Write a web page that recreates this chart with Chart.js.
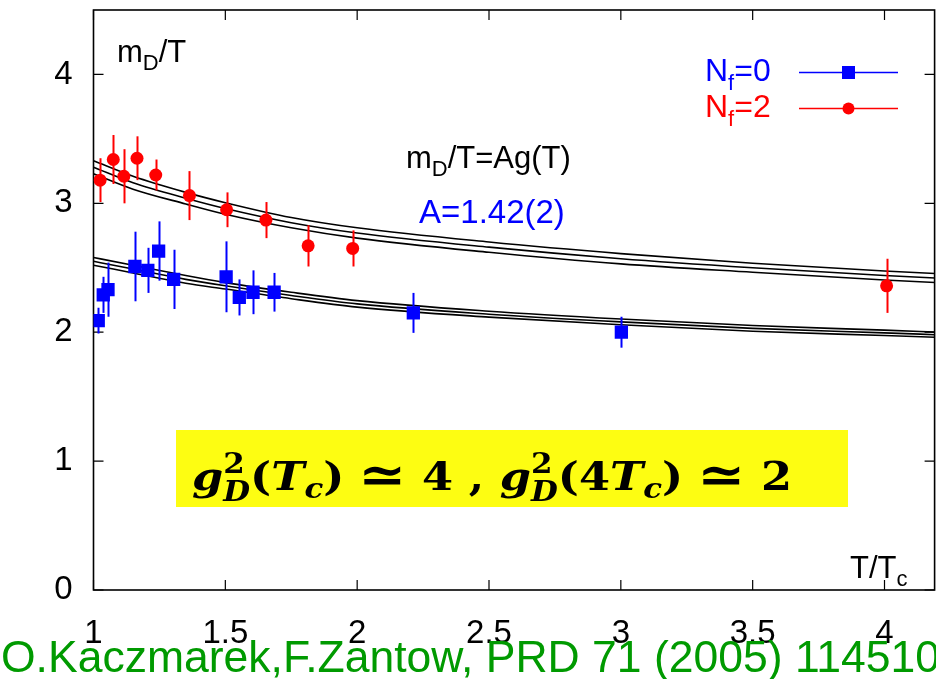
<!DOCTYPE html>
<html>
<head>
<meta charset="utf-8">
<script src="https://cdn.jsdelivr.net/npm/chart.js@4.4.0/dist/chart.umd.min.js"></script>
<style>
    html, body { margin: 0; padding: 0; background: #fff; overflow: hidden; }
    #wrap { width: 936px; height: 679px; overflow: hidden; }
</style>
</head>
<body>
<div id="wrap"><canvas id="screeningChart" width="944" height="679"></canvas></div>
<script>
// quenched (Nf=0) data: T/Tc, m_D/T, error
var nf0T   = [1.018, 1.037, 1.055, 1.157, 1.206, 1.247, 1.304, 1.503, 1.553, 1.605, 1.685, 2.213, 3.002];
var nf0M   = [2.09, 2.29, 2.33, 2.51, 2.48, 2.63, 2.41, 2.43, 2.27, 2.31, 2.31, 2.15, 2.00];
var nf0Err = [0.10, 0.14, 0.21, 0.27, 0.175, 0.23, 0.23, 0.275, 0.14, 0.17, 0.15, 0.155, 0.12];

// 2-flavour (Nf=2) data
var nf2T   = [1.025, 1.075, 1.115, 1.165, 1.236, 1.364, 1.505, 1.654, 1.814, 1.983, 4.008];
var nf2M   = [3.18, 3.34, 3.21, 3.35, 3.22, 3.06, 2.95, 2.87, 2.67, 2.65, 2.36];
var nf2Err = [0.17, 0.19, 0.21, 0.17, 0.12, 0.19, 0.135, 0.14, 0.16, 0.14, 0.21];

// fit bands m_D/T = A g(T): centre line and the two error lines
var fitT    = [1.0, 1.15, 1.35, 1.5, 1.75, 2.0, 2.5, 3.0, 3.5, 4.0, 4.2];
var fit2Mid = [3.28, 3.16, 3.04, 2.96, 2.85, 2.77, 2.66, 2.57, 2.50, 2.44, 2.42];
var fit2Hi  = [3.33, 3.21, 3.085, 3.005, 2.89, 2.81, 2.70, 2.61, 2.535, 2.475, 2.455];
var fit2Lo  = [3.23, 3.11, 2.995, 2.915, 2.81, 2.73, 2.62, 2.53, 2.465, 2.405, 2.385];
var fit0Mid = [2.55, 2.49, 2.41, 2.36, 2.285, 2.22, 2.14, 2.08, 2.03, 1.995, 1.98];
var fit0Hi  = [2.58, 2.52, 2.44, 2.385, 2.31, 2.245, 2.163, 2.102, 2.052, 2.016, 2.0];
var fit0Lo  = [2.52, 2.46, 2.38, 2.335, 2.26, 2.195, 2.117, 2.058, 2.008, 1.974, 1.96];

var xTicks = [1, 1.5, 2, 2.5, 3, 3.5, 4];
var xTickLabels = ['1', '1.5', '2', '2.5', '3', '3.5', '4'];
var yTicks = [0, 1, 2, 3, 4];

function pts(xs, ys) {
    return xs.map(function (x, i) { return { x: x, y: ys[i] }; });
}

function fitLine(ys) {
    return {
        data: pts(fitT, ys),
        showLine: true,
        borderColor: '#000',
        borderWidth: 1.6,
        pointRadius: 0,
        cubicInterpolationMode: 'monotone',
        fill: false
    };
}

// draws text with sub/superscripts, parts = [text, size, dy, style] or {stack: [...]}
function rich(ctx, x, y, parts, color, family, measureOnly) {
    var x0 = x;
    ctx.fillStyle = color;
    ctx.textBaseline = 'alphabetic';
    ctx.textAlign = 'left';
    parts.forEach(function (p) {
        if (p.stack) {
            var w = 0;
            p.stack.forEach(function (s) {
                ctx.font = s.font;
                w = Math.max(w, ctx.measureText(s.t).width);
                if (!measureOnly) ctx.fillText(s.t, x, y + s.dy);
            });
            x += w;
            return;
        }
        ctx.font = (p[3] || '') + ' ' + p[1] + 'px ' + family;
        if (!measureOnly) ctx.fillText(p[0], x, y + (p[2] || 0));
        x += ctx.measureText(p[0]).width;
    });
    return x - x0;
}

var errorBars = {
    id: 'errorBars',
    beforeDatasetDraw: function (chart, args) {
        var ds = chart.data.datasets[args.index];
        if (!ds.errors) return;
        var xs = chart.scales.x, ys = chart.scales.y, ctx = chart.ctx;
        ctx.save();
        ctx.strokeStyle = ds.borderColor;
        ctx.lineWidth = 2;
        ds.data.forEach(function (p, i) {
            var px = Math.round(xs.getPixelForValue(p.x)) + 0.5;
            ctx.beginPath();
            ctx.moveTo(px, ys.getPixelForValue(p.y - ds.errors[i]));
            ctx.lineTo(px, ys.getPixelForValue(p.y + ds.errors[i]));
            ctx.stroke();
        });
        ctx.restore();
    }
};

// gnuplot style frame with inward ticks on all four sides
var frame = {
    id: 'frame',
    beforeDatasetsDraw: function (chart) {
        var a = chart.chartArea, ctx = chart.ctx, tl = 10;
        ctx.save();
        ctx.strokeStyle = '#000';
        ctx.lineWidth = 1.6;
        ctx.strokeRect(a.left, a.top, a.right - a.left, a.bottom - a.top);
        ctx.lineWidth = 1.2;
        ctx.beginPath();
        xTicks.forEach(function (v) {
            var px = chart.scales.x.getPixelForValue(v);
            ctx.moveTo(px, a.bottom); ctx.lineTo(px, a.bottom - tl);
            ctx.moveTo(px, a.top); ctx.lineTo(px, a.top + tl);
        });
        yTicks.forEach(function (v) {
            var py = chart.scales.y.getPixelForValue(v);
            ctx.moveTo(a.left, py); ctx.lineTo(a.left + tl, py);
            ctx.moveTo(a.right, py); ctx.lineTo(a.right - tl, py);
        });
        ctx.stroke();
        ctx.restore();
    }
};

var labels = {
    id: 'labels',
    afterDraw: function (chart) {
        var ctx = chart.ctx, sans = '"Liberation Sans", Arial, sans-serif';
        ctx.save();

        rich(ctx, 117, 62, [['m', 31], ['D', 22, 8], ['/T', 31]], '#000', sans);
        rich(ctx, 406, 168, [['m', 31], ['D', 22, 8], ['/T=Ag(T)', 31]], '#000', sans);
        rich(ctx, 419, 223, [['A=1.42(2)', 33]], '#0000ff', sans);
        rich(ctx, 850, 578, [['T/T', 31], ['c', 22, 8]], '#000', sans);

        // legend
        rich(ctx, 705, 81, [['N', 32], ['f', 22, 9], ['=0', 32]], '#0000ff', sans);
        rich(ctx, 705, 117, [['N', 32], ['f', 22, 9], ['=2', 32]], '#ff0000', sans);
        ctx.lineWidth = 1.6;
        ctx.strokeStyle = '#0000ff';
        ctx.beginPath(); ctx.moveTo(799, 72.5); ctx.lineTo(898, 72.5); ctx.stroke();
        ctx.fillStyle = '#0000ff';
        ctx.fillRect(842, 66, 13, 13);
        ctx.strokeStyle = '#ff0000';
        ctx.beginPath(); ctx.moveTo(799, 108.5); ctx.lineTo(898, 108.5); ctx.stroke();
        ctx.fillStyle = '#ff0000';
        ctx.beginPath(); ctx.arc(848.5, 108.5, 6, 0, Math.PI * 2); ctx.fill();

        // highlighted box with the coupling estimate
        ctx.fillStyle = '#fdfd12';
        ctx.fillRect(176, 430, 672, 77);
        var serif = '"DejaVu Serif", "Liberation Serif", serif';
        var sup = { stack: [{ t: '2', font: 'bold 27px ' + serif, dy: -17 }, { t: 'D', font: 'italic bold 27px ' + serif, dy: 11 }] };
        var parts = [
            ['g', 39, 0, 'italic bold'], sup, ['(', 39, 0, 'bold'], ['T', 39, 0, 'italic bold'], ['c', 27, 8, 'italic bold'],
            [')', 39, 0, 'bold'], [' ', 39], ['\u2243', 50, 2, 'bold'], [' 4 , ', 39, 0, 'bold'],
            ['g', 39, 0, 'italic bold'], sup, ['(4', 39, 0, 'bold'], ['T', 39, 0, 'italic bold'], ['c', 27, 8, 'italic bold'],
            [')', 39, 0, 'bold'], [' ', 39], ['\u2243', 50, 2, 'bold'], [' 2', 39, 0, 'bold']
        ];
        var w = rich(ctx, 0, 0, parts, '#000', serif, true);
        ctx.save();
        ctx.translate(192, 490);
        ctx.scale(600 / w, 1);
        rich(ctx, 0, 0, parts, '#000', serif);
        ctx.restore();

        // reference line
        ctx.font = '44.5px ' + sans;
        ctx.fillStyle = '#009a00';
        ctx.fillText('O.Kaczmarek,F.Zantow, PRD 71 (2005) 114510', 1, 672);
        ctx.restore();
    }
};

document.addEventListener('DOMContentLoaded', function () {
    Chart.defaults.font.family = '"Liberation Sans", Arial, sans-serif';
    Chart.defaults.color = '#000';
    var ctx = document.getElementById('screeningChart').getContext('2d');
    var screeningChart = new Chart(ctx, {
        type: 'scatter',
        data: {
            datasets: [
                {
                    label: 'Nf=0',
                    data: pts(nf0T, nf0M),
                    errors: nf0Err,
                    pointStyle: 'rect',
                    pointRadius: 9.4,
                    backgroundColor: '#0000ff',
                    borderColor: '#0000ff',
                    borderWidth: 0
                },
                {
                    label: 'Nf=2',
                    data: pts(nf2T, nf2M),
                    errors: nf2Err,
                    pointStyle: 'circle',
                    pointRadius: 6.5,
                    backgroundColor: '#ff0000',
                    borderColor: '#ff0000',
                    borderWidth: 0
                },
                fitLine(fit2Hi), fitLine(fit2Mid), fitLine(fit2Lo),
                fitLine(fit0Hi), fitLine(fit0Mid), fitLine(fit0Lo)
            ]
        },
        options: {
            responsive: false,
            animation: false,
            devicePixelRatio: 1,
            layout: { padding: { left: 0, right: 4, top: 10, bottom: 0 } },
            plugins: { legend: { display: false }, tooltip: { enabled: false } },
            scales: {
                x: {
                    type: 'linear',
                    min: 1,
                    max: 4.19,
                    grid: { display: false, drawTicks: false },
                    border: { display: false },
                    afterBuildTicks: function (s) { s.ticks = xTicks.map(function (v) { return { value: v }; }); },
                    afterFit: function (s) { s.height = 89; s.paddingLeft = 0; s.paddingRight = 0; },
                    ticks: {
                        font: { size: 33 }, padding: 24, maxRotation: 0,
                        callback: function (v, i) { return xTickLabels[i]; }
                    }
                },
                y: {
                    min: 0,
                    max: 4.5,
                    grid: { display: false, drawTicks: false },
                    border: { display: false },
                    afterBuildTicks: function (s) { s.ticks = yTicks.map(function (v) { return { value: v }; }); },
                    afterFit: function (s) { s.width = 93.5; s.paddingTop = 0; s.paddingBottom = 0; },
                    ticks: { font: { size: 33 }, padding: 21 }
                }
            }
        },
        plugins: [frame, errorBars, labels]
    });
});
</script>
</body>
</html>
